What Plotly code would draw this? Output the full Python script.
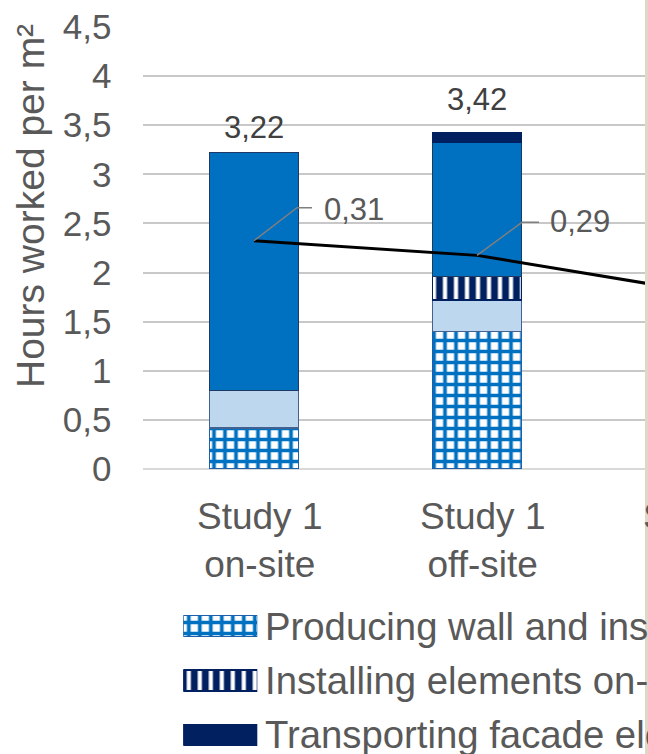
import plotly.graph_objects as go

W, H = 648, 754

# ---- data -------------------------------------------------------------
categories = ["Study 1<br>on-site", "Study 1<br>off-site", "Study 2<br>on-site"]

producing = [0.42, 1.40, None]      # Producing wall and insulation elements
preparing = [0.38, 0.32, None]      # Preparing materials
installing = [None, 0.24, None]     # Installing elements on-site
finishing = [2.42, 1.37, None]      # Finishing facade on-site
transporting = [None, 0.09, None]   # Transporting facade elements

ratio = [0.31, 0.29, 0.24]          # secondary-axis line series

legend_names = [
    "Producing wall and insulation elements",
    "Installing elements on-site",
    "Transporting facade elements",
]

# ---- layout geometry (pixels) -----------------------------------------
PLOT_L, PLOT_R = 142.5, 648.0
PLOT_T, PLOT_B = 27.0, 469.0
BAND = 223.0                         # pixel width of one category band
x_span = (PLOT_R - PLOT_L) / BAND
x_range = [-0.5, -0.5 + x_span]

TXT = "#595959"
FONT = "Liberation Sans, Arial, sans-serif"


def fmt(v):
    return f"{v:.2f}".replace(".", ",")


def px_x(p):
    return p / W


def px_y(p):
    return (H - p) / H


seg_style = [
    dict(name="Producing wall and insulation elements", values=producing,
         marker=dict(color="white", line=dict(color="#1f5fa8", width=1.5),
                     pattern=dict(shape="+", fgcolor="#0070C0", bgcolor="white",
                                  fgopacity=1, size=11, solidity=0.56))),
    dict(name="Preparing materials", values=preparing,
         marker=dict(color="#BDD7EE", line=dict(color="#44628f", width=1.5))),
    dict(name="Installing elements on-site", values=installing,
         marker=dict(color="#002060", line=dict(color="#002060", width=1.5),
                     pattern=dict(shape="|", fgcolor="white", bgcolor="#002060",
                                  fgopacity=1, size=11, solidity=0.38))),
    dict(name="Finishing facade on-site", values=finishing,
         marker=dict(color="#0070C0", line=dict(color="#1F3864", width=1.5))),
    dict(name="Transporting facade elements", values=transporting,
         marker=dict(color="#002060", line=dict(color="#002060", width=1.5))),
]

fig = go.Figure()

for s in seg_style:
    fig.add_trace(go.Bar(
        x=categories, y=s["values"], name=s["name"], marker=s["marker"],
        width=0.4, xaxis="x", yaxis="y", showlegend=False,
    ))

fig.add_trace(go.Scatter(
    x=categories, y=ratio, mode="lines", name="Ratio",
    line=dict(color="black", width=3), xaxis="x", yaxis="y2", showlegend=False,
))

# legend swatches drawn as bars in a small helper subplot
legend_rows = [0, 1, 2]
legend_marks = [seg_style[0]["marker"], seg_style[2]["marker"], seg_style[4]["marker"]]
for row, mk, nm in zip(legend_rows, legend_marks, legend_names):
    fig.add_trace(go.Bar(
        x=[1], y=[row], orientation="h", marker=mk, width=0.385, name=nm,
        xaxis="x3", yaxis="y3", showlegend=False, hoverinfo="skip",
    ))

annotations = []

# category labels
for i, c in enumerate(categories):
    annotations.append(dict(
        text=c, xref="x domain", yref="paper",
        x=(i + 0.5) / x_span + 5 / (PLOT_R - PLOT_L), y=px_y(540),
        xanchor="center", yanchor="middle", showarrow=False,
        font=dict(size=37, color=TXT, family=FONT),
    ))

# bar totals
segs = [producing, preparing, installing, finishing, transporting]
total_shift = [25, 34]
for i in range(2):
    tot = sum(s[i] for s in segs if s[i] is not None)
    annotations.append(dict(
        text=fmt(tot), x=categories[i], y=tot, xref="x", yref="y",
        xanchor="center", yanchor="middle", yshift=total_shift[i],
        showarrow=False, font=dict(size=31, color="#404040", family=FONT),
    ))

# line value labels with elbow leaders
leader_paths = ["M0,0 L43,33 L58,33", "M0,0 L45,33 L62,33"]
label_shift = [(68, 31), (71, 34)]
shapes = []
for i in range(2):
    shapes.append(dict(
        type="path", xref="x", yref="y2", xsizemode="pixel", ysizemode="pixel",
        xanchor=categories[i], yanchor=ratio[i], path=leader_paths[i],
        line=dict(color="#7f7f7f", width=1.5),
    ))
    annotations.append(dict(
        text=fmt(ratio[i]), x=categories[i], y=ratio[i], xref="x", yref="y2",
        xanchor="left", yanchor="middle",
        xshift=label_shift[i][0], yshift=label_shift[i][1],
        showarrow=False, font=dict(size=31, color=TXT, family=FONT),
    ))

# legend texts
for row, nm in zip(legend_rows, legend_names):
    annotations.append(dict(
        text=nm, xref="paper", yref="y3", x=px_x(263), y=row,
        xanchor="left", yanchor="middle", showarrow=False,
        font=dict(size=38.3, color=TXT, family=FONT),
    ))

# y-axis title
annotations.append(dict(
    text="Hours worked per m²", xref="paper", yref="paper",
    x=px_x(31), y=px_y(206), textangle=-90,
    xanchor="center", yanchor="middle", showarrow=False,
    font=dict(size=39, color=TXT, family=FONT),
))

# thin edge strip on the right border
shapes.append(dict(
    type="rect", xref="paper", yref="paper", x0=px_x(645), x1=1, y0=0, y1=1,
    fillcolor="#e0d7c9", line=dict(width=0), layer="above",
))

fig.update_layout(
    width=W, height=H,
    margin=dict(l=0, r=0, t=0, b=0),
    paper_bgcolor="white", plot_bgcolor="white",
    barmode="stack",
    separators=",.",
    showlegend=False,
    font=dict(family=FONT, color=TXT),
    xaxis=dict(
        type="category", categoryarray=categories, range=x_range,
        domain=[px_x(PLOT_L), 1], anchor="y",
        showticklabels=False, showgrid=False, zeroline=False, showline=False,
        ticks="", automargin=False, fixedrange=True,
    ),
    yaxis=dict(
        range=[0, 4.5], dtick=0.5, tick0=0,
        domain=[px_y(PLOT_B), px_y(PLOT_T)], anchor="x",
        showgrid=True, gridcolor="#c8c8c8", gridwidth=1.6,
        zeroline=True, zerolinecolor="#d9d9d9", zerolinewidth=2,
        showline=False, ticks="", ticklabelstandoff=30,
        tickfont=dict(size=35, color=TXT, family=FONT), automargin=False,
    ),
    yaxis2=dict(
        range=[0, 0.6], overlaying="y", side="right", anchor="x",
        visible=False, showgrid=False, zeroline=False,
    ),
    xaxis3=dict(
        domain=[px_x(183.3), px_x(257.3)], range=[0, 1], anchor="y3",
        visible=False, showgrid=False, zeroline=False, fixedrange=True,
    ),
    yaxis3=dict(
        domain=[0, px_y(606)], range=[2.349, -0.367], anchor="x3",
        visible=False, showgrid=False, zeroline=False, fixedrange=True,
    ),
    annotations=annotations,
    shapes=shapes,
)

fig.write_html("out.html")
